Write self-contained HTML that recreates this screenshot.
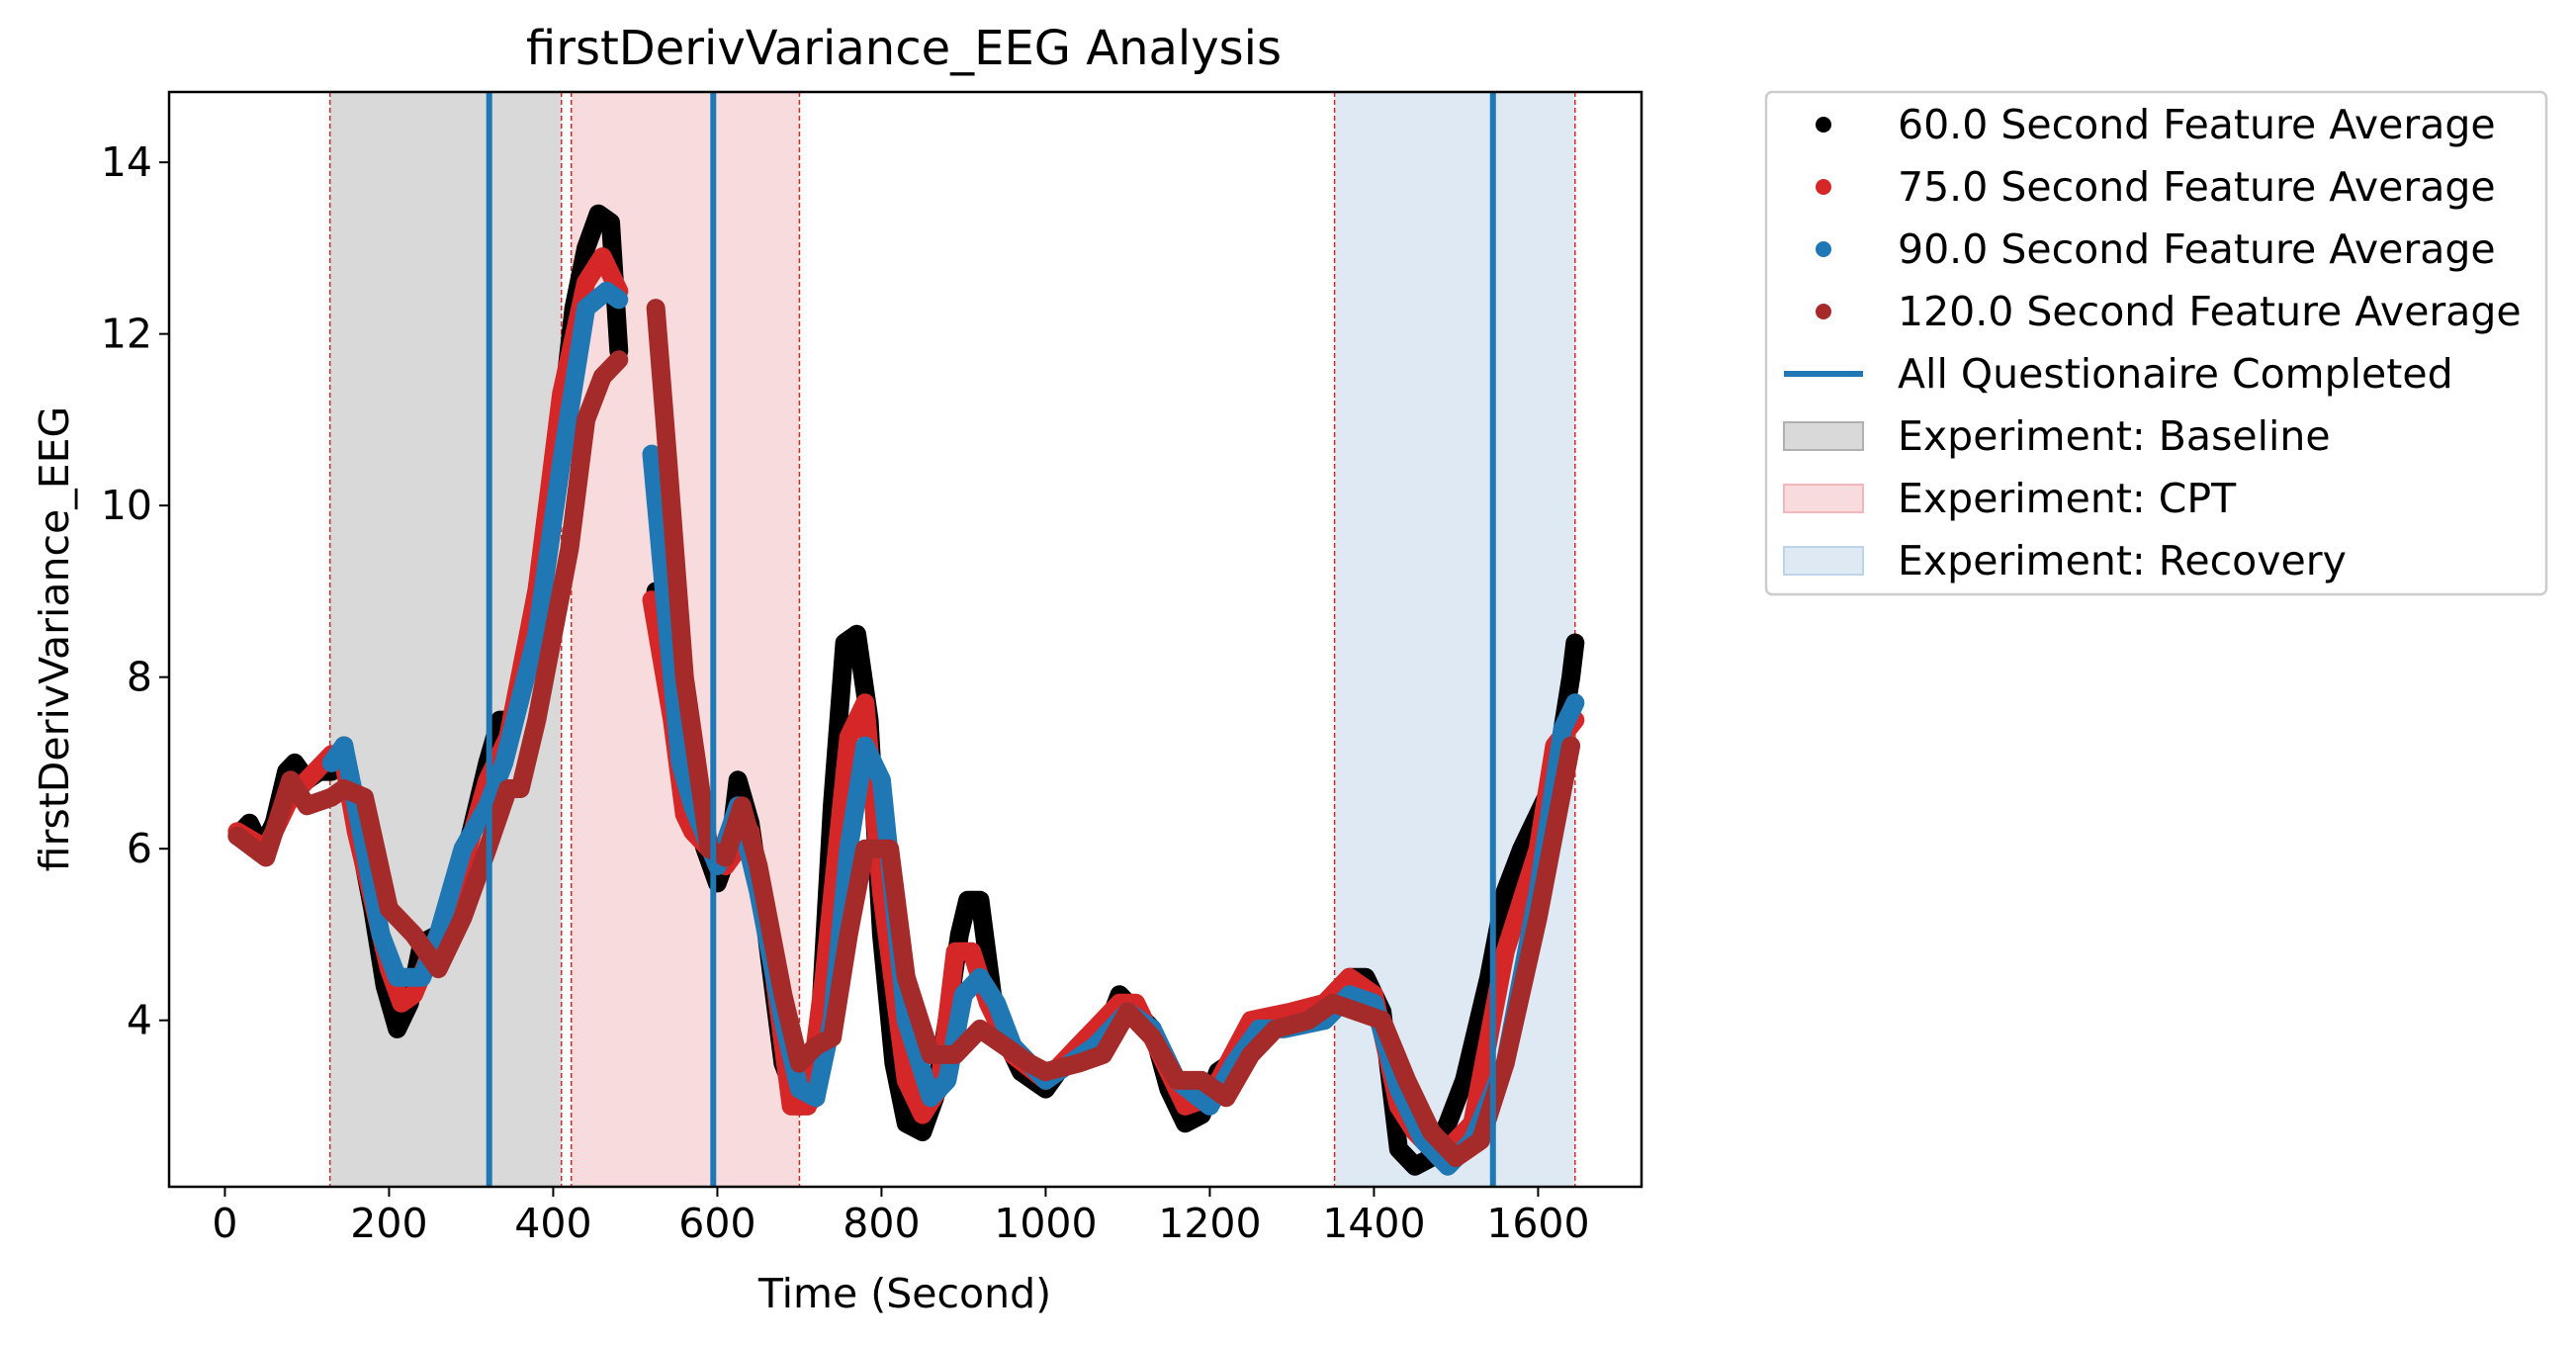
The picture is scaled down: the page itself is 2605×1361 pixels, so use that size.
<!DOCTYPE html>
<html><head><meta charset="utf-8"><style>
html,body{margin:0;padding:0;background:#fff;}
svg{display:block;font-family:"DejaVu Sans","Liberation Sans",sans-serif;}
</style></head><body>
<svg id="chart" width="2605" height="1361" viewBox="0 0 2605 1361" xmlns="http://www.w3.org/2000/svg">
<g id="bg"></g>
<g id="series"></g>
<g id="vlines"></g>
<g id="axes"></g>
<text x="914" y="65" font-size="48" text-anchor="middle">firstDerivVariance_EEG Analysis</text>
<text x="915" y="1322" font-size="41" text-anchor="middle">Time (Second)</text>
<text x="0" y="0" font-size="41" text-anchor="middle" transform="translate(69,646) rotate(-90)">firstDerivVariance_EEG</text>
<g id="legend"></g>
</svg>
<script>
const xTicks=[0,200,400,600,800,1000,1200,1400,1600];
const yTicks=[4,6,8,10,12,14];
const regionNames=["Baseline","CPT","Recovery"];
const regionStart=[128,422,1352];
const regionEnd=[410,700,1645];
const questionnaireTimes=[322,595,1545];
const tBlack=[15,30,45,60,75,85,100,115,130,145,160,180,195,210,225,240,260,280,300,320,335,350,370,390,410,425,440,455,470,480,null,525,540,555,570,585,600,615,625,640,660,680,700,720,740,755,770,785,800,815,830,850,865,880,895,905,920,935,950,970,1000,1030,1050,1070,1090,1110,1130,1150,1170,1190,1210,1240,1260,1290,1320,1350,1370,1390,1410,1430,1450,1470,1490,1510,1540,1560,1580,1600,1620,1640,1645];
const vBlack=[6.15,6.3,6.0,6.3,6.9,7.0,6.8,6.9,6.9,7.2,6.3,5.3,4.4,3.9,4.2,4.9,5.0,5.5,6.2,7.0,7.5,7.5,8.5,9.5,11.0,12.3,13.0,13.4,13.3,11.8,null,9.0,8.0,7.0,6.5,6.0,5.6,6.0,6.8,6.3,5.0,3.5,3.0,3.1,6.5,8.4,8.5,7.5,5.0,3.5,2.8,2.7,3.1,4.0,5.0,5.4,5.4,4.3,3.8,3.4,3.2,3.6,3.8,3.8,4.3,4.1,3.9,3.2,2.8,2.9,3.4,3.6,3.9,4.0,4.0,4.3,4.5,4.5,4.1,2.5,2.3,2.4,2.8,3.3,4.5,5.5,6.0,6.4,6.8,8.0,8.4];
const tRed=[15,50,80,130,145,160,200,215,230,260,290,320,345,380,410,440,460,480,null,520,545,560,570,590,610,640,660,690,710,730,760,780,800,830,850,870,890,910,930,960,1000,1040,1090,1110,1140,1170,1200,1250,1300,1340,1370,1400,1430,1450,1480,1520,1560,1600,1620,1645];
const vRed=[6.2,6.0,6.6,7.1,7.0,6.2,4.6,4.2,4.3,5.0,5.8,6.8,7.3,9.0,11.3,12.6,12.9,12.5,null,8.9,7.5,6.4,6.2,6.0,5.8,6.2,5.2,3.0,3.0,4.5,7.3,7.7,5.5,3.3,2.9,3.2,4.8,4.8,4.2,3.6,3.3,3.7,4.2,4.2,3.6,3.0,3.1,4.0,4.1,4.2,4.5,4.3,3.0,2.7,2.4,2.8,4.8,6.0,7.2,7.5];
const tBlue=[130,145,160,190,210,240,260,290,320,340,380,410,440,465,480,null,520,540,555,570,600,625,650,680,700,720,740,760,780,800,830,860,880,900,920,940,960,1000,1060,1100,1130,1160,1200,1230,1260,1290,1340,1370,1400,1430,1460,1490,1520,1560,1600,1630,1645];
const vBlue=[7.0,7.2,6.5,5.0,4.5,4.5,5.0,6.0,6.5,7.0,8.5,10.5,12.3,12.5,12.4,null,10.6,8.5,7.0,6.5,5.8,6.5,5.5,4.0,3.2,3.1,4.0,6.0,7.2,6.8,4.0,3.1,3.3,4.3,4.5,4.2,3.7,3.3,3.7,4.1,3.9,3.3,3.0,3.5,3.9,3.9,4.0,4.3,4.2,3.2,2.6,2.3,2.6,3.5,5.5,7.4,7.7];
const tBrown=[15,50,80,100,130,145,170,200,230,260,290,320,345,360,380,420,440,460,480,null,525,540,560,575,590,610,630,650,680,700,720,740,760,780,810,830,860,890,920,950,980,1000,1040,1070,1100,1130,1160,1190,1220,1250,1280,1320,1350,1380,1410,1440,1470,1500,1530,1560,1600,1640];
const vBrown=[6.15,5.9,6.8,6.5,6.6,6.7,6.6,5.3,5.0,4.6,5.2,6.0,6.7,6.7,7.5,9.5,11.0,11.5,11.7,null,12.3,10.5,8.0,7.0,6.0,5.9,6.5,5.8,4.3,3.5,3.7,3.8,5.0,6.0,6.0,4.5,3.6,3.6,3.9,3.7,3.5,3.4,3.5,3.6,4.1,3.8,3.3,3.3,3.1,3.6,3.9,4.0,4.2,4.1,4.0,3.3,2.7,2.4,2.6,3.5,5.2,7.2];

const NS="http://www.w3.org/2000/svg";
const L=171,R=1660,T=93,B=1200;
const xMin=-68,xMax=1726,yMin=2.06,yMax=14.82;
function X(v){return L+(v-xMin)/(xMax-xMin)*(R-L);}
function Y(v){return B-(v-yMin)/(yMax-yMin)*(B-T);}
function mk(tag,attrs,parent){const e=document.createElementNS(NS,tag);for(const k in attrs)e.setAttribute(k,attrs[k]);parent.appendChild(e);return e;}

const bg=document.getElementById('bg');
const regionFill=["#d9d9d9","#f8dcdd","#dee9f3"];
for(let i=0;i<regionNames.length;i++){
  const r=mk('rect',{x:X(regionStart[i]),y:T,width:X(regionEnd[i])-X(regionStart[i]),height:B-T,fill:regionFill[i]},bg);
  
  
  for(const t of [regionStart[i],regionEnd[i]]){
    const l=mk('line',{x1:X(t),x2:X(t),y1:T,y2:B,stroke:"#d62728","stroke-width":1.5,"stroke-dasharray":"5,3"},bg);
    
    
  }
}

const sg=document.getElementById('series');
function drawSeries(ts,vs,color,name){
  let segs=[],cur=[];
  for(let i=0;i<ts.length;i++){
    if(ts[i]===null||vs[i]===null){if(cur.length)segs.push(cur);cur=[];continue;}
    cur.push(X(ts[i]).toFixed(1)+","+Y(vs[i]).toFixed(1));
  }
  if(cur.length)segs.push(cur);
  for(const s of segs){
    const p=mk('polyline',{points:s.join(' '),fill:"none",stroke:color,"stroke-width":19,"stroke-linejoin":"round","stroke-linecap":"round"},sg);
    
    
  }
}
drawSeries(tBlack,vBlack,"#000000","series-60s");
drawSeries(tRed,vRed,"#d62728","series-75s");
drawSeries(tBlue,vBlue,"#1f77b4","series-90s");
drawSeries(tBrown,vBrown,"#a52a2a","series-120s");

const vl=document.getElementById('vlines');
for(const t of questionnaireTimes){
  const l=mk('line',{x1:X(t),x2:X(t),y1:T,y2:B,stroke:"#1f77b4","stroke-width":6},vl);
  
  
}

const ax=document.getElementById('axes');
const frame=mk('rect',{x:L,y:T,width:R-L,height:B-T,fill:"none",stroke:"#000","stroke-width":2.5},ax);


for(const t of xTicks){
  const l=mk('line',{x1:X(t),x2:X(t),y1:B,y2:B+10,stroke:"#000","stroke-width":2},ax);
  
  
  const tx=mk('text',{x:X(t),y:B+51,"font-size":41,"text-anchor":"middle"},ax);
  tx.textContent=t;
  
  
}
for(const t of yTicks){
  const l=mk('line',{x1:L-10,x2:L,y1:Y(t),y2:Y(t),stroke:"#000","stroke-width":2},ax);
  
  
  const tx=mk('text',{x:L-17,y:Y(t)+14,"font-size":41,"text-anchor":"end"},ax);
  tx.textContent=t;
  
  
}

const lg=document.getElementById('legend');
const box=mk('rect',{x:1786,y:93,width:789,height:508,rx:6,fill:"#fff",stroke:"#cccccc","stroke-width":2.5},lg);


const legLabels=["60.0 Second Feature Average","75.0 Second Feature Average","90.0 Second Feature Average","120.0 Second Feature Average","All Questionaire Completed","Experiment: Baseline","Experiment: CPT","Experiment: Recovery"];
const legColors=["#000000","#d62728","#1f77b4","#a52a2a","#1f77b4","#d9d9d9","#f8dcdd","#dee9f3"];
const legEdge=["","","","","","#b0b0b0","#f0b8ba","#bcd3e8"];
for(let i=0;i<legLabels.length;i++){
  const cy=126+i*63;
  const g=mk('g',{},lg);
  
  
  if(i<4) mk('circle',{cx:1844,cy:cy,r:8,fill:legColors[i]},g);
  else if(i===4) mk('line',{x1:1804,x2:1884,y1:cy,y2:cy,stroke:legColors[i],"stroke-width":6},g);
  else mk('rect',{x:1804,y:cy-14,width:80,height:28,fill:legColors[i],stroke:legEdge[i],"stroke-width":2},g);
  const t=mk('text',{x:1919,y:cy+14,"font-size":41},g);
  t.textContent=legLabels[i];
}
</script>
</body></html>
